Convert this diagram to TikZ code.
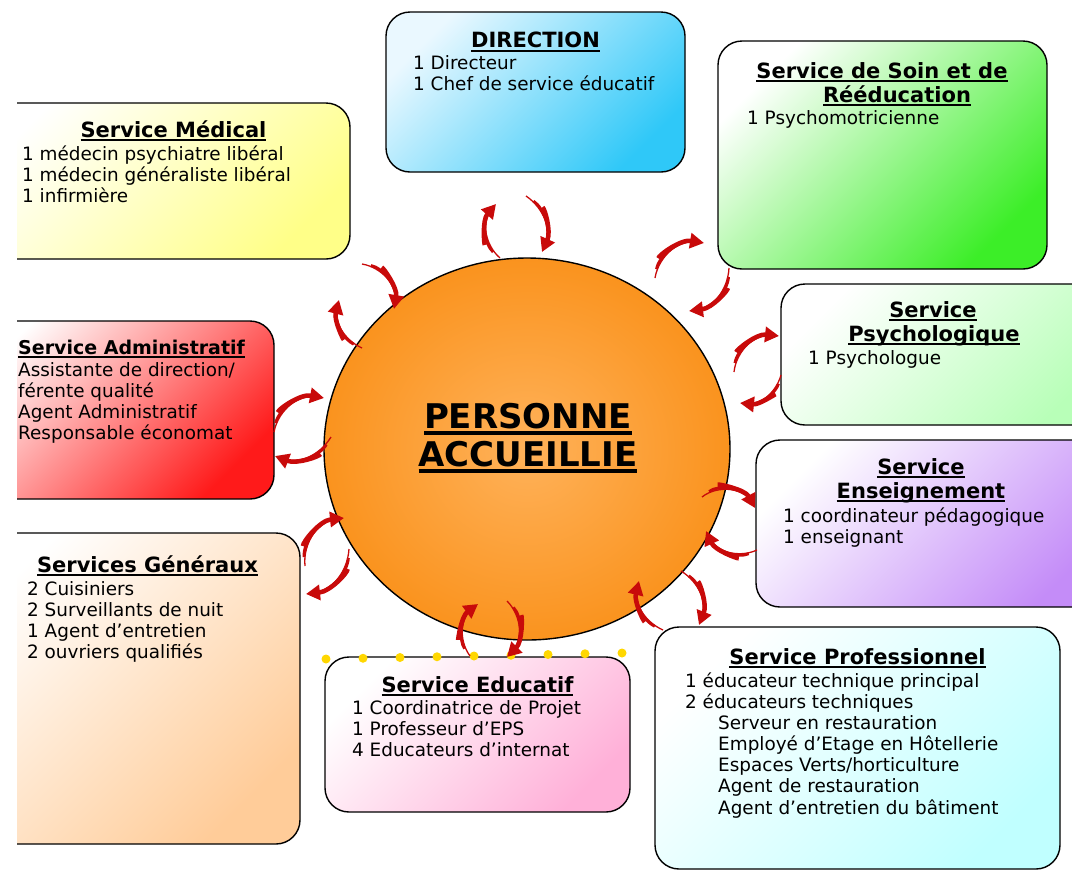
\documentclass[tikz,border=0pt]{standalone}
\usepackage{fontspec}
\setmainfont{DejaVu Sans}
\usetikzlibrary{shapes.geometric,arrows.meta}
\definecolor{dirC}{HTML}{2FC8F8}
\definecolor{dirL}{HTML}{EAF8FF}
\definecolor{soinC}{HTML}{3CEE28}
\definecolor{medC}{HTML}{FFFF88}
\definecolor{psyC}{HTML}{B8FFB8}
\definecolor{admC}{HTML}{FF1A1A}
\definecolor{ensC}{HTML}{C48CF8}
\definecolor{genC}{HTML}{FFCC99}
\definecolor{eduC}{HTML}{FFB0D8}
\definecolor{proC}{HTML}{C0FFFF}
\definecolor{orIn}{HTML}{FFB25A}
\definecolor{orOut}{HTML}{FA931E}
\definecolor{swC}{HTML}{C80A0A}
\definecolor{dotC}{HTML}{FFD700}
\newcommand\myul[1]{\setbox0\hbox{#1}\leavevmode\rlap{\rule[-0.2em]{\wd0}{0.1em}}\box0}
\newcommand\bodylines[4]{\foreach \t [count=\i] in {#4} {\node[bdy] (#1-\i) at ({#2},{#3+(\i-1)*21.3}) {\t};}}
\newcommand\swoosh[4]{\coordinate (#1s) at (#2); \coordinate (#1e) at (#3);
  \draw[swthin] (#1s) to[bend left=#4] (#1e);
  \draw[swmid] (#1s) to[bend left=#4] (#1e);
  \draw[swoosh] (#1s) to[bend left=#4] (#1e);}
\begin{document}
\begin{tikzpicture}[x=1pt,y=-1pt,
  box/.style={draw=black, line width=1.4pt, rounded corners=24pt, inner sep=0pt},
  ttl/.style={font=\fontsize{21}{24}\selectfont\bfseries, inner sep=0pt, anchor=base},
  bdy/.style={font=\fontsize{18.4}{21}\selectfont, inner sep=0pt, anchor=base west},
  swthin/.style={line width=1.3pt, draw=swC, shorten >=10pt},
  swmid/.style={line width=2.8pt, draw=swC, shorten >=10pt, shorten <=9pt},
  swoosh/.style={line width=4.5pt, draw=swC, shorten <=20pt, -{Triangle[length=14pt,width=15pt]}},
  dot/.style={circle, fill=dotC, minimum size=9pt, inner sep=0pt}
]
\useasboundingbox (0,0) rectangle (1072,871);
\clip (17,0) rectangle (1072,871);
% boxes
\node[box, minimum width=299pt, minimum height=160pt, top color=dirL, bottom color=dirC, shading angle=45] (dir) at (535.5,92) {};
\node[box, minimum width=329pt, minimum height=228pt, top color=white, bottom color=soinC, shading angle=45] (soin) at (882.5,155) {};
\node[box, minimum width=380pt, minimum height=156pt, top color=white, bottom color=medC, shading angle=45] (med) at (160,181) {};
\node[box, minimum width=329pt, minimum height=141pt, top color=white, bottom color=psyC, shading angle=45] (psy) at (945.5,354.5) {};
\node[box, minimum width=314pt, minimum height=178pt, top color=white, bottom color=admC, shading angle=45] (adm) at (117,410) {};
\node[box, minimum width=354pt, minimum height=167pt, top color=white, bottom color=ensC, shading angle=45] (ens) at (933,523.5) {};
\node[box, minimum width=340pt, minimum height=311pt, top color=white, bottom color=genC, shading angle=45] (gen) at (130,688.5) {};
\node[box, minimum width=305pt, minimum height=155pt, top color=white, bottom color=eduC, shading angle=45] (edu) at (477.5,734.5) {};
\node[box, minimum width=405pt, minimum height=242pt, top color=white, bottom color=proC, shading angle=45] (pro) at (857.5,748) {};
% dots
\foreach \i in {0,...,8} \node[dot] (dot\i) at ({326+\i*37},{659-\i*0.75}) {};
% centre
\node[ellipse, draw=black, line width=1.4pt, minimum width=406pt, minimum height=382pt, inner color=orIn, outer color=orOut] (pa) at (527,449) {};
\node[font=\fontsize{34}{38}\selectfont\bfseries, anchor=base, inner sep=0pt] (pa1) at (528,428) {\myul{PERSONNE}};
\node[font=\fontsize{34}{38}\selectfont\bfseries, anchor=base, inner sep=0pt] (pa2) at (528,466) {\myul{ACCUEILLIE}};
% titles
\node[ttl] (dir-t) at (535.5,47.5) {\myul{DIRECTION}};
\node[ttl] (soin-t1) at (882,78) {\myul{Service de Soin et de}};
\node[ttl] (soin-t2) at (897,102) {\myul{Rééducation}};
\node[ttl] (med-t) at (173.5,137) {\myul{Service Médical}};
\node[ttl] (psy-t1) at (933,317) {\myul{Service}};
\node[ttl] (psy-t2) at (934,341) {\myul{Psychologique}};
\node[ttl, anchor=base west, font=\fontsize{19}{22}\selectfont\bfseries] (adm-t) at (18,354) {\myul{Service Administratif}};
\node[ttl] (ens-t1) at (921,474) {\myul{Service}};
\node[ttl] (ens-t2) at (921,498) {\myul{Enseignement}};
\node[ttl] (gen-t) at (147.5,572) {\myul{Services Généraux}};
\node[ttl] (edu-t) at (477.5,692) {\myul{Service Educatif}};
\node[ttl] (pro-t) at (857.5,664) {\myul{Service Professionnel}};
% bodies
\bodylines{dirb}{413}{69}{1 Directeur, 1 Chef de service éducatif}
\bodylines{soinb}{747}{124}{1 Psychomotricienne}
\bodylines{medb}{22}{160}{1 médecin psychiatre libéral, 1 médecin généraliste libéral, 1 infirmière}
\bodylines{psyb}{808}{364}{1 Psychologue}
\bodylines{admb}{18}{376}{Assistante de direction/, férente qualité, Agent Administratif, Responsable économat}
\bodylines{ensb}{783}{522}{1 coordinateur pédagogique, 1 enseignant}
\bodylines{genb}{27}{595}{2 Cuisiniers, 2 Surveillants de nuit, 1 Agent d’entretien, 2 ouvriers qualifiés}
\bodylines{edub}{352}{714}{1 Coordinatrice de Projet, 1 Professeur d’EPS, 4 Educateurs d’internat}
\bodylines{prob}{685}{687}{1 éducateur technique principal, 2 éducateurs techniques}
\bodylines{proc}{718}{729}{Serveur en restauration, Employé d’Etage en Hôtellerie, Espaces Verts/horticulture, Agent de restauration, Agent d’entretien du bâtiment}
% swooshes
\swoosh{a1}{500,258}{496,204}{45}
\swoosh{a2}{526,196}{542,252}{40}
\swoosh{b1}{655,278}{704,243}{45}
\swoosh{b2}{729,268}{689,311}{40}
\swoosh{c1}{362,264}{394,309}{45}
\swoosh{c2}{362,348}{339,300}{40}
\swoosh{d1}{734,372}{779,336}{45}
\swoosh{d2}{781,375}{740,403}{40}
\swoosh{e1}{274,432}{324,398}{45}
\swoosh{e2}{331,437}{275,456}{40}
\swoosh{f1}{702,497}{755,508}{50}
\swoosh{f2}{757,550}{706,531}{45}
\swoosh{g1}{305,566}{344,518}{45}
\swoosh{g2}{349,549}{306,594}{40}
\swoosh{h1}{470,656}{478,604}{45}
\swoosh{h2}{507,601}{507,657}{45}
\swoosh{i1}{663,630}{639,581}{40}
\swoosh{i2}{681,571}{699,625}{40}
\end{tikzpicture}
\end{document}
